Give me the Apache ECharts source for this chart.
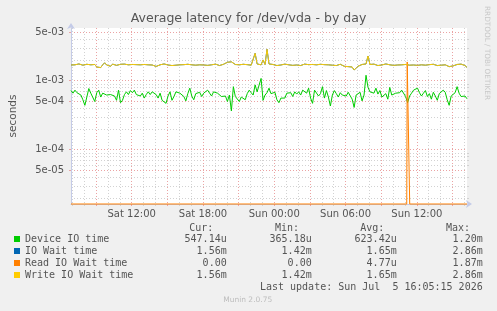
<!DOCTYPE html>
<html>
<head>
<meta charset="utf-8">
<script src="https://cdn.jsdelivr.net/npm/echarts@6/dist/echarts.min.js"></script>
<style>
  html, body { margin: 0; padding: 0; background: #f0f0f0; }
  #chart { width: 497px; height: 311px; }
</style>
</head>
<body>
<div id="chart"></div>
<script>
// time axis in hours since Sat 00:00, 400 px at 5 min per px
const startHour = 6 + 53 / 60 + 20 / 3600;
const endHour = startHour + 400 * 300 / 3600;
const stepHour = 10 / 60;

// values in ms, one every 10 minutes
const deviceIoMs = [
  0.72,0.66,0.73,0.67,0.64,0.62,0.53,0.44,0.58,0.77,
  0.66,0.69,0.50,0.67,0.73,0.58,0.66,0.67,0.62,0.66,
  0.63,0.67,0.60,0.52,0.73,0.48,0.52,0.63,0.69,0.63,
  0.72,0.67,0.73,0.63,0.67,0.60,0.66,0.56,0.63,0.69,
  0.63,0.69,0.73,0.63,0.56,0.66,0.52,0.53,0.47,0.60,
  0.69,0.52,0.59,0.69,0.68,0.66,0.62,0.59,0.51,0.65,
  0.78,0.60,0.53,0.65,0.64,0.68,0.59,0.66,0.62,0.73,
  0.66,0.60,0.69,0.73,0.66,0.67,0.59,0.58,0.60,0.50,
  0.62,0.365,0.82,0.59,0.60,0.50,0.58,0.62,0.53,0.65,
  0.73,0.67,0.62,0.87,0.69,0.70,1.08,0.52,0.62,0.67,
  0.78,0.65,0.66,0.68,0.53,0.48,0.56,0.59,0.56,0.66,
  0.66,0.67,0.59,0.69,0.64,0.69,0.62,0.73,0.78,0.66,
  0.78,0.56,0.47,0.73,0.78,0.60,0.65,0.82,0.56,0.72,
  0.58,0.43,0.62,0.72,0.65,0.58,0.67,0.62,0.65,0.60,
  0.68,0.64,0.54,0.41,0.62,0.60,0.68,0.51,0.62,1.20,
  0.80,0.69,0.73,0.66,0.78,0.64,0.72,0.58,0.62,0.65,
  0.54,0.80,0.62,0.58,0.66,0.66,0.67,0.73,0.69,0.59,
  0.48,0.60,0.66,0.73,0.71,0.78,0.67,0.60,0.66,0.72,
  0.59,0.65,0.54,0.68,0.60,0.52,0.65,0.64,0.73,0.68,
  0.53,0.44,0.60,0.60,0.67,0.82,0.66,0.59,0.58,0.60,
  0.547
];

const writeWaitMs = [
  1.69,1.74,1.70,1.66,1.75,1.72,1.68,1.64,1.73,1.76,
  1.70,1.78,1.72,1.58,1.50,1.55,1.70,1.82,1.69,1.72,
  1.62,1.74,1.70,1.67,1.71,1.73,1.69,1.74,1.66,1.70,
  1.68,1.72,1.69,1.71,1.74,1.70,1.67,1.72,1.68,1.70,
  1.73,1.69,1.65,1.61,1.67,1.70,1.69,1.75,1.72,1.69,
  1.70,1.66,1.72,1.68,1.74,1.70,1.65,1.71,1.69,1.73,
  1.67,1.70,1.72,1.68,1.64,1.70,1.73,1.69,1.71,1.67,
  1.72,1.70,1.68,1.74,1.70,1.66,1.71,1.73,1.78,1.85,
  1.76,1.88,1.79,1.72,1.75,1.70,1.68,1.73,1.69,1.71,
  1.74,1.68,1.72,2.50,1.75,1.82,1.70,2.00,1.72,2.86,
  1.75,1.68,1.72,1.70,1.66,1.73,1.69,1.71,1.74,1.68,
  1.70,1.72,1.67,1.71,1.69,1.73,1.66,1.70,1.74,1.69,
  1.71,1.68,1.72,1.76,1.70,1.67,1.73,1.69,1.71,1.65,
  1.70,1.74,1.68,1.71,1.66,1.70,1.73,1.68,1.62,1.66,
  1.60,1.64,1.58,1.43,1.52,1.62,1.68,1.72,1.70,1.75,
  2.28,1.72,1.68,1.74,1.70,1.66,1.72,1.69,1.71,1.75,
  1.68,1.70,1.73,1.67,1.71,1.69,1.74,1.70,1.66,1.72,
  1.70,1.68,1.73,1.69,1.71,1.67,1.74,1.70,1.72,1.68,
  1.65,1.71,1.69,1.73,1.70,1.66,1.72,1.68,1.63,1.70,
  1.67,1.60,1.52,1.64,1.70,1.72,1.68,1.74,1.69,1.66,
  1.56
];

// IO wait is the same as write wait here (blue sits under yellow)
const ioWaitMs = writeWaitMs;

// read wait is zero except one short burst before Sun 12:00
const readWaitHours = [startHour, 35.15, 35.19, 35.40, endHour];
const readWaitMs = [0, 0, 1.87, 0, 0];

const seriesNames = ['Device IO time', 'IO Wait time', 'Read IO Wait time', 'Write IO Wait time'];
const seriesColors = ['#00cc00', '#0066b3', '#ff8000', '#ffcc00'];
const curText = ['547.14u', '1.56m', '0.00', '1.56m'];
const minText = ['365.18u', '1.42m', '0.00', '1.42m'];
const avgText = ['623.42u', '1.65m', '4.77u', '1.65m'];
const maxText = ['1.20m', '2.86m', '1.87m', '2.86m'];

const yMin = 1.633e-5;
const yMax = 5.81e-3;
const yMajorTicks = [5e-5, 1e-4, 5e-4, 1e-3, 5e-3];
const yMinorTicks = [2e-5, 3e-5, 4e-5, 6e-5, 7e-5, 8e-5, 9e-5,
  2e-4, 3e-4, 4e-4, 6e-4, 7e-4, 8e-4, 9e-4, 2e-3, 3e-3, 4e-3];
const xLabelHours = [12, 18, 24, 30, 36];
const xMajorHours = [9, 12, 15, 18, 21, 24, 27, 30, 33, 36, 39];
const xMinorHours = [7, 8, 10, 11, 13, 14, 16, 17, 19, 20, 22, 23, 25, 26, 28, 29, 31, 32, 34, 35, 37, 38, 40];

const sansFont = 'DejaVu Sans';
const monoFont = 'DejaVu Sans Mono';
const textColor = '#555';
const majorGrid = '#eba3a3';
const minorGrid = '#d2d2d2';
const axisColor = '#c4cbe8';

const chart = echarts.init(document.getElementById('chart'));

const toPoints = vals => vals.map((v, i) => [startHour + i * stepHour, Math.max(v / 1000, yMin)]);

function sci(v) {
  const parts = v.toExponential(0).split('e');
  const sign = parts[1][0] === '-' ? '-' : '+';
  const d = parts[1].replace(/[+-]/, '');
  return parts[0] + 'e' + sign + (d.length < 2 ? '0' + d : d);
}

function hourLabel(h) {
  const hh = Math.round(h) % 24;
  return (h < 24 ? 'Sat ' : 'Sun ') + (hh < 10 ? '0' + hh : hh) + ':00';
}

const lineSeries = (name, i, data, clip) => ({
  name,
  type: 'line',
  data,
  xAxisIndex: 0,
  yAxisIndex: 0,
  showSymbol: false,
  symbol: 'none',
  clip: clip,
  color: seriesColors[i],
  lineStyle: { width: 1, color: seriesColors[i] },
  animation: false
});

const readPoints = readWaitMs.map((v, i) => [readWaitHours[i], Math.max(v / 1000, yMin)]);

const option = {
  backgroundColor: '#f0f0f0',
  animation: false,
  title: {
    text: 'Average latency for /dev/vda - by day',
    left: 'center',
    top: 12,
    padding: 0,
    textStyle: { fontFamily: sansFont, fontSize: 12.5, fontWeight: 'normal', color: textColor }
  },
  grid: {
    left: 67, right: 30, top: 28, bottom: 107,
    show: true, backgroundColor: '#ffffff', borderWidth: 0
  },
  xAxis: [
    {
      type: 'value', min: startHour, max: endHour, position: 'bottom',
      axisLine: {
        show: true, lineStyle: { color: axisColor, width: 1 },
        symbol: ['none', 'arrow'], symbolSize: [6, 6], symbolOffset: [0, 5]
      },
      axisTick: { show: true, customValues: xMajorHours, length: 2, lineStyle: { color: majorGrid } },
      axisLabel: {
        customValues: xLabelHours, formatter: hourLabel, margin: 5,
        fontFamily: sansFont, fontSize: 10, color: textColor
      },
      splitLine: { show: true, lineStyle: { color: majorGrid, type: [1, 2], width: 1 } }
    },
    {
      type: 'value', min: startHour, max: endHour, position: 'bottom',
      axisLine: { show: false },
      axisTick: { show: true, customValues: xMinorHours, length: 2, lineStyle: { color: minorGrid } },
      axisLabel: { show: false },
      splitLine: { show: true, lineStyle: { color: minorGrid, type: [1, 2], width: 1 } }
    }
  ],
  yAxis: [
    {
      type: 'log', logBase: 10, min: yMin, max: yMax,
      name: 'seconds', nameLocation: 'middle', nameGap: 52,
      nameTextStyle: { fontFamily: sansFont, fontSize: 10.5, color: textColor },
      axisLine: {
        show: true, lineStyle: { color: axisColor, width: 1 },
        symbol: ['none', 'arrow'], symbolSize: [6, 6], symbolOffset: [0, 5]
      },
      axisTick: { show: true, customValues: yMajorTicks, length: 2, lineStyle: { color: majorGrid } },
      axisLabel: {
        customValues: yMajorTicks, formatter: sci, margin: 7,
        fontFamily: sansFont, fontSize: 10, color: textColor
      },
      splitLine: { show: true, lineStyle: { color: majorGrid, type: [1, 2], width: 1 } }
    },
    {
      type: 'log', logBase: 10, min: yMin, max: yMax,
      axisLine: { show: false },
      axisTick: { show: true, customValues: yMinorTicks, length: 2, lineStyle: { color: minorGrid } },
      axisLabel: { show: false },
      splitLine: { show: true, lineStyle: { color: minorGrid, type: [1, 2], width: 1 } }
    }
  ],
  legend: {
    orient: 'vertical', left: 14, top: 233,
    itemWidth: 6, itemHeight: 6, itemGap: 0, icon: 'rect',
    selectedMode: false, padding: 0,
    data: seriesNames,
    formatter: name => {
      const i = seriesNames.indexOf(name);
      return '{n|' + name + '}{c|' + curText[i] + '}{m|' + minText[i] + '}{a|' + avgText[i] + '}{x|' + maxText[i] + '}';
    },
    textStyle: {
      fontFamily: monoFont, fontSize: 10, color: textColor, lineHeight: 12,
      rich: {
        n: { width: 150, fontFamily: monoFont, fontSize: 10, color: textColor },
        c: { width: 51.7, align: 'right', fontFamily: monoFont, fontSize: 10, color: textColor },
        m: { width: 85, align: 'right', fontFamily: monoFont, fontSize: 10, color: textColor },
        a: { width: 85, align: 'right', fontFamily: monoFont, fontSize: 10, color: textColor },
        x: { width: 86, align: 'right', fontFamily: monoFont, fontSize: 10, color: textColor }
      }
    }
  },
  graphic: [
    { type: 'text', x: 213.3, y: 228.3, style: { text: 'Cur:', align: 'right', verticalAlign: 'middle', font: '10px "DejaVu Sans Mono"', fill: textColor } },
    { type: 'text', x: 299, y: 228.3, style: { text: 'Min:', align: 'right', verticalAlign: 'middle', font: '10px "DejaVu Sans Mono"', fill: textColor } },
    { type: 'text', x: 384.3, y: 228.3, style: { text: 'Avg:', align: 'right', verticalAlign: 'middle', font: '10px "DejaVu Sans Mono"', fill: textColor } },
    { type: 'text', x: 470, y: 228.3, style: { text: 'Max:', align: 'right', verticalAlign: 'middle', font: '10px "DejaVu Sans Mono"', fill: textColor } },
    { type: 'text', x: 482.7, y: 287.3, style: { text: 'Last update: Sun Jul  5 16:05:15 2026', align: 'right', verticalAlign: 'middle', font: '10px "DejaVu Sans Mono"', fill: textColor } },
    { type: 'text', x: 247.7, y: 300.3, style: { text: 'Munin 2.0.75', align: 'center', verticalAlign: 'middle', font: '7.5px "DejaVu Sans"', fill: '#bdbdbd' } },
    { type: 'text', x: 487, y: 53, rotation: -Math.PI / 2, style: { text: 'RRDTOOL / TOBI OETIKER', align: 'center', verticalAlign: 'middle', font: '7.3px "DejaVu Sans"', fill: '#c8c8c8' } }
  ],
  series: [
    lineSeries(seriesNames[0], 0, toPoints(deviceIoMs), true),
    lineSeries(seriesNames[1], 1, toPoints(ioWaitMs), true),
    lineSeries(seriesNames[2], 2, readPoints, false),
    lineSeries(seriesNames[3], 3, toPoints(writeWaitMs), true)
  ]
};

chart.setOption(option);
</script>
</body>
</html>
